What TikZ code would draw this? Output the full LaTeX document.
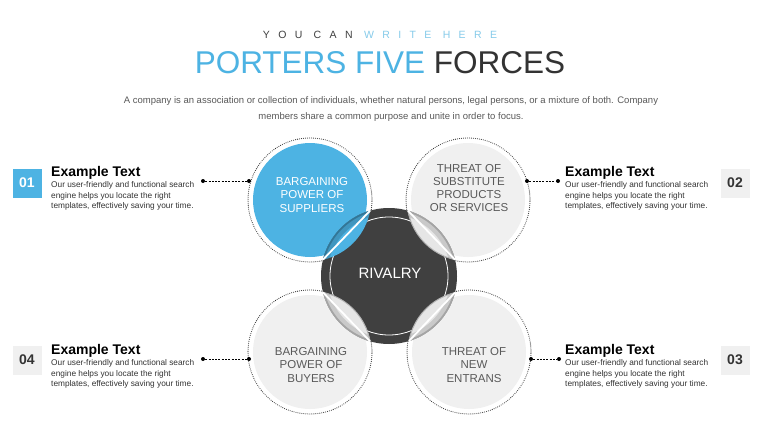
\documentclass[tikz,border=0pt]{standalone}
\usepackage{fontspec}
\setmainfont{Liberation Sans}
\usepackage{tikz}
\usetikzlibrary{positioning,calc,intersections}
\definecolor{sky}{HTML}{4DB3E3}
\definecolor{skylight}{HTML}{86CBEA}
\definecolor{ink}{HTML}{333333}
\definecolor{slate}{HTML}{404040}
\definecolor{mist}{HTML}{F0F0F0}
\definecolor{lensgray}{HTML}{E6E6E6}
\definecolor{bodygray}{HTML}{595959}
\newfontfamily\spacedfont[LetterSpace=80]{Liberation Sans}

\begin{document}
\begin{tikzpicture}[x=1pt,y=-1pt]
    \tikzset{
      force/.style={circle,fill=mist,minimum size=114pt,inner sep=0pt},
      lead/.style={circle,fill=sky,minimum size=114pt,inner sep=0pt},
      ring/.style={draw=ink,line width=1.1pt,line cap=round,dash pattern=on 0pt off 2pt},
      forcetext/.style={align=center,inner sep=0pt,font=\fontsize{11.5}{13.3}\selectfont,text=bodygray},
      numbox/.style={minimum size=29pt,inner sep=0pt,font=\fontsize{14}{14}\selectfont\bfseries},
      head/.style={inner sep=0pt,font=\fontsize{14}{14}\selectfont\bfseries,text=black},
      desc/.style={inner sep=0pt,align=left,font=\fontsize{8.3}{10.8}\selectfont,text=ink},
      joint/.style={circle,fill=black,inner sep=0pt,minimum size=4pt},
      link/.style={draw=black,line width=0.9pt,dash pattern=on 2pt off 1.3pt},
      chord/.style={draw=white,line width=1.8pt},
      softband/.style={line width=6pt,opacity=0.45},
      hardband/.style={line width=1.6pt,opacity=0.6}
    }
    \fill[white] (0,0) rectangle (760,428);
    \useasboundingbox (0,0) rectangle (760,428);
    \node[anchor=base,inner sep=0pt,font=\spacedfont\fontsize{10.5}{10.5}\selectfont] (tag) at (380,38.5) {\textcolor{slate}{YOU CAN} \textcolor{skylight}{WRITE HERE}};
    \node[anchor=base,inner sep=0pt,font=\fontsize{31.5}{31.5}\selectfont] (title) at (380,74) {\textcolor{sky}{PORTERS FIVE} \textcolor{ink}{FORCES}};
    \node[align=center,inner sep=0pt,font=\fontsize{9.5}{16}\selectfont,text=bodygray] (intro) at (391,109) {A company is an association or collection of individuals, whether natural persons, legal persons, or a mixture of both. Company\\members share a common purpose and unite in order to focus.};
    \node[lead] (sup) at (310,200) {};
    \node[force] (sub) at (468,200) {};
    \node[force] (buy) at (310,352) {};
    \node[force] (ent) at (469,352) {};
    \node[circle,minimum size=136pt,inner sep=0pt] (riv) at (389,276) {};
    \draw[ring] (sup.center) circle (62pt);
    \draw[ring] (sub.center) circle (62pt);
    \draw[ring] (buy.center) circle (62pt);
    \draw[ring] (ent.center) circle (62pt);
    \fill[slate] (riv.center) circle (68pt);
    \begin{scope}
      \clip (riv.center) circle (68pt);
      \draw[white,line width=0.8pt] (riv.center) circle (59pt);
      \fill[sky] (sup.center) circle (61pt);
      \fill[lensgray] (sub.center) circle (61pt);
      \fill[lensgray] (buy.center) circle (61pt);
      \fill[lensgray] (ent.center) circle (61pt);
      \draw[black!30,line width=1pt] (sub.center) circle (61pt);
      \draw[black!30,line width=1pt] (buy.center) circle (61pt);
      \draw[black!30,line width=1pt] (ent.center) circle (61pt);
    \end{scope}
    \begin{scope}
      \clip (sup.center) circle (61pt);
      \draw[softband,draw=sky!65!black] (riv.center) circle (65pt);
      \draw[hardband,draw=sky!55!black] (riv.center) circle (67.2pt);
    \end{scope}
    \begin{scope}
      \clip (sub.center) circle (61pt);
      \draw[softband,draw=black!35] (riv.center) circle (65pt);
      \draw[hardband,draw=black!45] (riv.center) circle (67.2pt);
    \end{scope}
    \begin{scope}
      \clip (buy.center) circle (61pt);
      \draw[softband,draw=black!35] (riv.center) circle (65pt);
      \draw[hardband,draw=black!45] (riv.center) circle (67.2pt);
    \end{scope}
    \begin{scope}
      \clip (ent.center) circle (61pt);
      \draw[softband,draw=black!35] (riv.center) circle (65pt);
      \draw[hardband,draw=black!45] (riv.center) circle (67.2pt);
    \end{scope}
    \path[name path=rivp] (riv.center) circle (68pt);
    \path[name path=supp] (sup.center) circle (61pt);
    \path[name path=subp] (sub.center) circle (61pt);
    \path[name path=buyp] (buy.center) circle (61pt);
    \path[name path=entp] (ent.center) circle (61pt);
    \path[name intersections={of=rivp and supp,by={supa,supb}}];
    \path[name intersections={of=rivp and subp,by={suba,subb}}];
    \path[name intersections={of=rivp and buyp,by={buya,buyb}}];
    \path[name intersections={of=rivp and entp,by={enta,entb}}];
    \draw[chord] (supa) -- (supb);
    \draw[chord] (suba) -- (subb);
    \draw[chord] (buya) -- (buyb);
    \draw[chord] (enta) -- (entb);
    \node[forcetext,text=white] (supt) at (312,195) {BARGAINING\\POWER OF\\SUPPLIERS};
    \node[forcetext] (subt) at (469,188) {THREAT OF\\SUBSTITUTE\\PRODUCTS\\OR SERVICES};
    \node[forcetext] (buyt) at (311,365) {BARGAINING\\POWER OF\\BUYERS};
    \node[forcetext] (entt) at (474,365) {THREAT OF\\NEW\\ENTRANS};
    \node[inner sep=0pt,font=\fontsize{15}{15}\selectfont,text=white] (rivt) at (390,273) {RIVALRY};
    \node[numbox,fill=sky,text=white] (n1) at (27,183) {01};
    \node[numbox,fill=mist,text=ink] (n2) at (735,183) {02};
    \node[numbox,fill=mist,text=ink] (n3) at (735,360) {03};
    \node[numbox,fill=mist,text=ink] (n4) at (27,360) {04};
    \node[head,anchor=base west] (h1) at (51,176) {Example Text};
    \node[desc,below=2pt of h1.south west,anchor=north west] (t1) {Our user-friendly and functional search\\engine helps you locate the right\\templates, effectively saving your time.};
    \node[head,anchor=base west] (h2) at (565,176) {Example Text};
    \node[desc,below=2pt of h2.south west,anchor=north west] (t2) {Our user-friendly and functional search\\engine helps you locate the right\\templates, effectively saving your time.};
    \node[head,anchor=base west] (h3) at (565,354) {Example Text};
    \node[desc,below=2pt of h3.south west,anchor=north west] (t3) {Our user-friendly and functional search\\engine helps you locate the right\\templates, effectively saving your time.};
    \node[head,anchor=base west] (h4) at (51,354) {Example Text};
    \node[desc,below=2pt of h4.south west,anchor=north west] (t4) {Our user-friendly and functional search\\engine helps you locate the right\\templates, effectively saving your time.};
    \node[joint] (j1a) at (203,181) {};
    \node[joint] (j1b) at (249,181) {};
    \node[joint] (j2a) at (527,181) {};
    \node[joint] (j2b) at (558,181) {};
    \node[joint] (j3a) at (531,359) {};
    \node[joint] (j3b) at (559,359) {};
    \node[joint] (j4a) at (203,359) {};
    \node[joint] (j4b) at (249,359) {};
    \draw[link] (j1a) -- (j1b);
    \draw[link] (j2a) -- (j2b);
    \draw[link] (j3a) -- (j3b);
    \draw[link] (j4a) -- (j4b);
  \end{tikzpicture}
\end{document}
